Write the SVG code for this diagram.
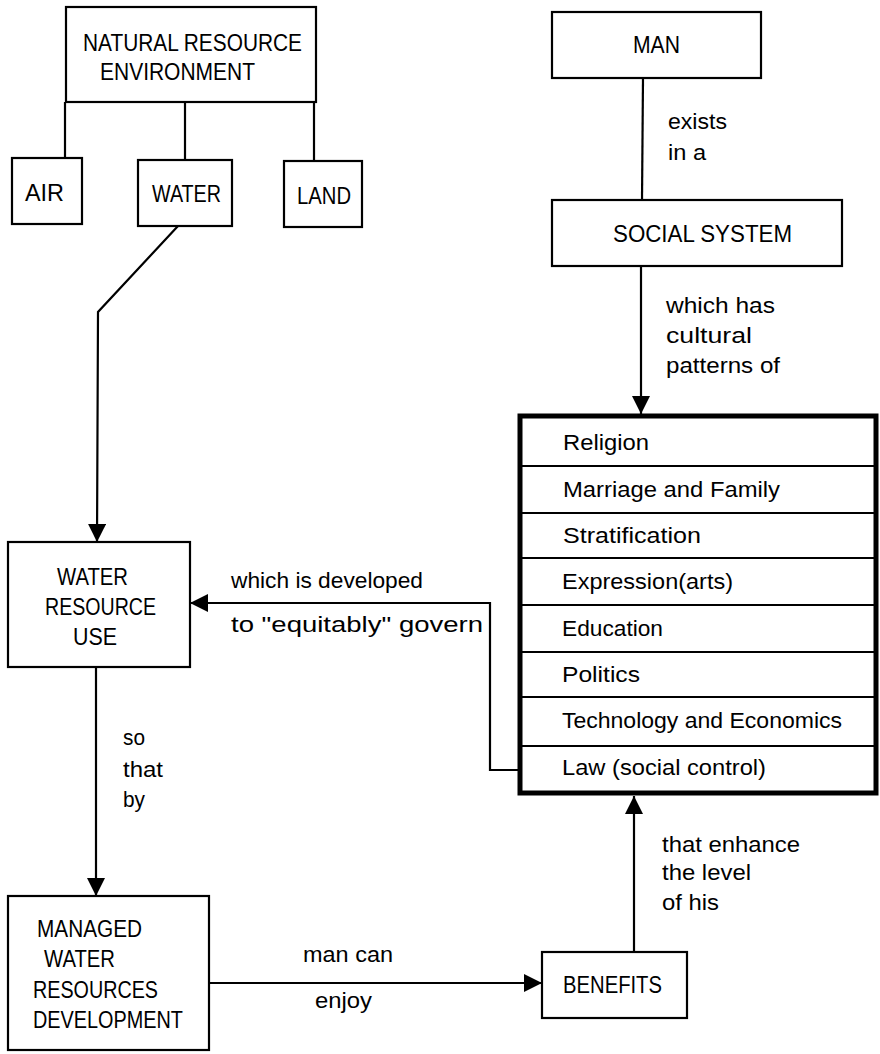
<svg xmlns="http://www.w3.org/2000/svg" width="880" height="1054" viewBox="0 0 880 1054">
<style>
  .box { fill: #fff; stroke: #000; stroke-width: 2.2; }
  .thick { fill: #fff; stroke: #000; stroke-width: 5; }
  .div { stroke: #000; stroke-width: 2; }
  .con { fill: none; stroke: #000; stroke-width: 2.2; }
  text { font-family: "Liberation Sans", Arial, sans-serif; fill: #000; }
  .cap { font-size: 23px; }
  .lbl { font-size: 22px; }
</style>
<defs>
  <marker id="arrow" viewBox="0 0 18 18" refX="18" refY="9" markerWidth="18" markerHeight="18" markerUnits="userSpaceOnUse" orient="auto">
    <path d="M0,0 L18,9 L0,18 z" fill="#000"/>
  </marker>
</defs>
<rect width="880" height="1054" fill="#fff"/>

<g id="connectors">
  <line class="con" x1="65" y1="102" x2="65" y2="158"/>
  <line class="con" x1="185" y1="102" x2="185" y2="160"/>
  <line class="con" x1="314" y1="102" x2="314" y2="161"/>
  <polyline class="con" points="178,226 98,312 97,542" marker-end="url(#arrow)"/>
  <line class="con" x1="643" y1="78" x2="642" y2="200"/>
  <line class="con" x1="641" y1="266" x2="641" y2="414" marker-end="url(#arrow)"/>
  <polyline class="con" points="518,770 490,770 490,603 190,603" marker-end="url(#arrow)"/>
  <line class="con" x1="96" y1="667" x2="96" y2="896" marker-end="url(#arrow)"/>
  <line class="con" x1="209" y1="983" x2="542" y2="983" marker-end="url(#arrow)"/>
  <line class="con" x1="634" y1="952" x2="634" y2="796" marker-end="url(#arrow)"/>
</g>

<g id="labels">
  <text class="lbl" x="668" y="129" textLength="59" lengthAdjust="spacingAndGlyphs">exists</text>
  <text class="lbl" x="668" y="160" textLength="38" lengthAdjust="spacingAndGlyphs">in a</text>
  <text class="lbl" x="666" y="313" textLength="109" lengthAdjust="spacingAndGlyphs">which has</text>
  <text class="lbl" x="666" y="343" textLength="86" lengthAdjust="spacingAndGlyphs">cultural</text>
  <text class="lbl" x="666" y="373" textLength="114" lengthAdjust="spacingAndGlyphs">patterns of</text>
  <text class="lbl" x="231" y="588" textLength="192" lengthAdjust="spacingAndGlyphs">which is developed</text>
  <text class="lbl" x="231" y="632" textLength="252" lengthAdjust="spacingAndGlyphs">to "equitably" govern</text>
  <text class="lbl" x="123" y="745" textLength="22" lengthAdjust="spacingAndGlyphs">so</text>
  <text class="lbl" x="123" y="777" textLength="40" lengthAdjust="spacingAndGlyphs">that</text>
  <text class="lbl" x="123" y="807" textLength="22" lengthAdjust="spacingAndGlyphs">by</text>
  <text class="lbl" x="303" y="962" textLength="90" lengthAdjust="spacingAndGlyphs">man can</text>
  <text class="lbl" x="315" y="1008" textLength="57" lengthAdjust="spacingAndGlyphs">enjoy</text>
  <text class="lbl" x="662" y="852" textLength="138" lengthAdjust="spacingAndGlyphs">that enhance</text>
  <text class="lbl" x="662" y="880" textLength="89" lengthAdjust="spacingAndGlyphs">the level</text>
  <text class="lbl" x="662" y="910" textLength="57" lengthAdjust="spacingAndGlyphs">of his</text>
</g>

<g id="natural-resource-environment">
  <rect class="box" x="66" y="7" width="250" height="95"/>
  <text class="cap" x="83" y="51" textLength="219" lengthAdjust="spacingAndGlyphs">NATURAL RESOURCE</text>
  <text class="cap" x="100" y="80" textLength="155" lengthAdjust="spacingAndGlyphs">ENVIRONMENT</text>
</g>
<g id="air">
  <rect class="box" x="12" y="158" width="70" height="66"/>
  <text class="cap" x="25" y="201" textLength="39" lengthAdjust="spacingAndGlyphs">AIR</text>
</g>
<g id="water">
  <rect class="box" x="138" y="160" width="94" height="66"/>
  <text class="cap" x="152" y="202" textLength="69" lengthAdjust="spacingAndGlyphs">WATER</text>
</g>
<g id="land">
  <rect class="box" x="284" y="161" width="78" height="66"/>
  <text class="cap" x="297" y="204" textLength="54" lengthAdjust="spacingAndGlyphs">LAND</text>
</g>
<g id="man">
  <rect class="box" x="552" y="12" width="209" height="66"/>
  <text class="cap" x="633" y="53" textLength="47" lengthAdjust="spacingAndGlyphs">MAN</text>
</g>
<g id="social-system">
  <rect class="box" x="552" y="200" width="290" height="66"/>
  <text class="cap" x="613" y="242" textLength="179" lengthAdjust="spacingAndGlyphs">SOCIAL SYSTEM</text>
</g>
<g id="cultural-patterns">
  <rect class="thick" x="520" y="416" width="356" height="377"/>
  <line class="div" x1="520" y1="466" x2="876" y2="466"/>
  <line class="div" x1="520" y1="513" x2="876" y2="513"/>
  <line class="div" x1="520" y1="558" x2="876" y2="558"/>
  <line class="div" x1="520" y1="605" x2="876" y2="605"/>
  <line class="div" x1="520" y1="652" x2="876" y2="652"/>
  <line class="div" x1="520" y1="697" x2="876" y2="697"/>
  <line class="div" x1="520" y1="746" x2="876" y2="746"/>
  <text class="lbl" x="563" y="450" textLength="86" lengthAdjust="spacingAndGlyphs">Religion</text>
  <text class="lbl" x="563" y="497" textLength="217" lengthAdjust="spacingAndGlyphs">Marriage and Family</text>
  <text class="lbl" x="563" y="543" textLength="138" lengthAdjust="spacingAndGlyphs">Stratification</text>
  <text class="lbl" x="562" y="589" textLength="171" lengthAdjust="spacingAndGlyphs">Expression(arts)</text>
  <text class="lbl" x="562" y="636" textLength="101" lengthAdjust="spacingAndGlyphs">Education</text>
  <text class="lbl" x="562" y="682" textLength="78" lengthAdjust="spacingAndGlyphs">Politics</text>
  <text class="lbl" x="562" y="728" textLength="280" lengthAdjust="spacingAndGlyphs">Technology and Economics</text>
  <text class="lbl" x="562" y="775" textLength="204" lengthAdjust="spacingAndGlyphs">Law (social control)</text>
</g>
<g id="water-resource-use">
  <rect class="box" x="8" y="542" width="182" height="125"/>
  <text class="cap" x="57" y="585" textLength="71" lengthAdjust="spacingAndGlyphs">WATER</text>
  <text class="cap" x="45" y="615" textLength="111" lengthAdjust="spacingAndGlyphs">RESOURCE</text>
  <text class="cap" x="73" y="645" textLength="44" lengthAdjust="spacingAndGlyphs">USE</text>
</g>
<g id="managed-water-resources-development">
  <rect class="box" x="8" y="896" width="201" height="154"/>
  <text class="cap" x="37" y="937" textLength="105" lengthAdjust="spacingAndGlyphs">MANAGED</text>
  <text class="cap" x="44" y="967" textLength="71" lengthAdjust="spacingAndGlyphs">WATER</text>
  <text class="cap" x="33" y="998" textLength="125" lengthAdjust="spacingAndGlyphs">RESOURCES</text>
  <text class="cap" x="33" y="1028" textLength="150" lengthAdjust="spacingAndGlyphs">DEVELOPMENT</text>
</g>
<g id="benefits">
  <rect class="box" x="542" y="952" width="145" height="66"/>
  <text class="cap" x="563" y="993" textLength="99" lengthAdjust="spacingAndGlyphs">BENEFITS</text>
</g>
</svg>
